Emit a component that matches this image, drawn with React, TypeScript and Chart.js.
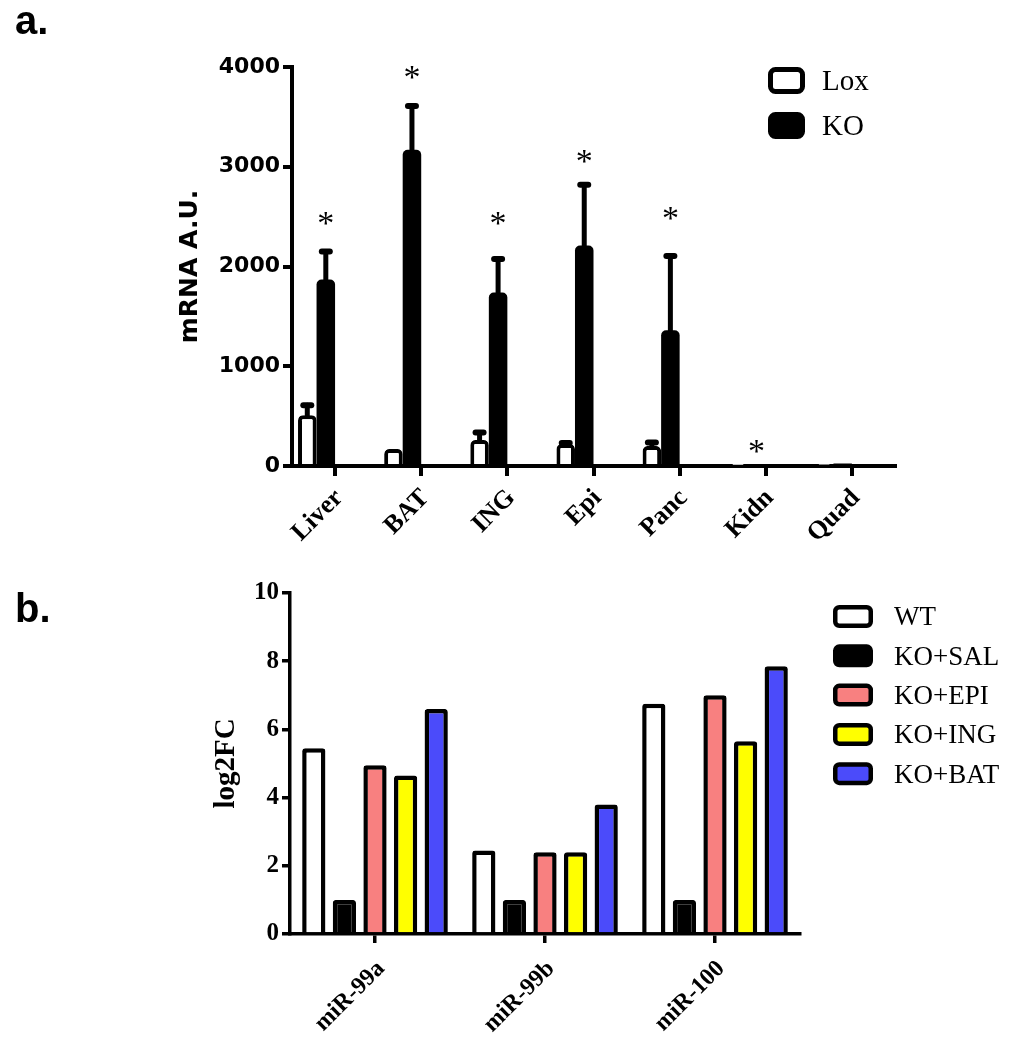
import React, { useEffect, useRef } from 'react';
import { Chart, registerables } from 'chart.js';

Chart.register(...registerables);

// ---------- Panel a data ----------
const tissues = ['Liver', 'BAT', 'ING', 'Epi', 'Panc', 'Kidn', 'Quad'];
const loxMean = [510, 170, 260, 220, 200, 5, 10];
const loxErr = [100, 0, 75, 10, 35, 0, 0];
const koMean = [1870, 3170, 1740, 2210, 1360, 20, 25];
const koErr = [280, 440, 335, 610, 745, 0, 0];
const starLevelA: (number | null)[] = [2480, 3940, 2480, 3100, 2530, 200, null];
const yTicksA = [0, 1000, 2000, 3000, 4000];
const spacerA = tissues.map(() => null);

// ---------- Panel b data ----------
const mirs = ['miR-99a', 'miR-99b', 'miR-100'];
const wt = [5.45, 2.45, 6.75];
const koSal = [1.0, 1.0, 1.0];
const koEpi = [4.95, 2.4, 7.0];
const koIng = [4.65, 2.4, 5.65];
const koBat = [6.6, 3.8, 7.85];
const yTicksB = [0, 2, 4, 6, 8, 10];

function makeLegend(key: string, o: { dx: number; dy: number; w: number; h: number; pitch: number; lw: number; tx: number; font: number; r: number }) {
  return {
    id: 'boxLegend' + key,
    afterDraw(chart: any) {
      const { ctx, chartArea } = chart;
      const items = chart.data.datasets.filter((d: any) => d.label);
      ctx.save();
      items.forEach((ds: any, i: number) => {
        const x = chartArea.right + o.dx;
        const y = chartArea.top + o.dy + i * o.pitch;
        ctx.beginPath();
        ctx.roundRect(x + o.lw / 2, y + o.lw / 2, o.w - o.lw, o.h - o.lw, o.r);
        ctx.fillStyle = ds.backgroundColor;
        ctx.fill();
        ctx.lineWidth = o.lw;
        ctx.strokeStyle = '#000';
        ctx.stroke();
        ctx.fillStyle = '#000';
        ctx.font = `${o.font}px "Liberation Serif", "Times New Roman", serif`;
        ctx.textAlign = 'left';
        ctx.textBaseline = 'alphabetic';
        ctx.fillText(ds.label, x + o.tx, y + o.h / 2 + o.font * 0.33);
      });
      ctx.restore();
    },
  };
}

const errPluginA = {
  id: 'errA',
  afterDatasetsDraw(chart: any) {
    const { ctx } = chart;
    const y = chart.scales.y;
    const sets: [number, number[], number[]][] = [
      [0, loxMean, loxErr],
      [1, koMean, koErr],
    ];
    ctx.save();
    ctx.strokeStyle = '#000';
    ctx.lineCap = 'round';
    sets.forEach(([di, means, errs]) => {
      const meta = chart.getDatasetMeta(di);
      meta.data.forEach((bar: any, i: number) => {
        const e = errs[i];
        if (!e) return;
        const top = y.getPixelForValue(means[i] + e);
        const base = y.getPixelForValue(means[i]);
        ctx.lineWidth = 5;
        ctx.beginPath();
        ctx.moveTo(bar.x, base);
        ctx.lineTo(bar.x, top);
        ctx.stroke();
        ctx.lineWidth = 6;
        ctx.beginPath();
        ctx.moveTo(bar.x - 4, top);
        ctx.lineTo(bar.x + 4, top);
        ctx.stroke();
      });
    });
    ctx.restore();
  },
};

const starPluginA = {
  id: 'starsA',
  afterDatasetsDraw(chart: any) {
    const { ctx } = chart;
    const y = chart.scales.y;
    const meta = chart.getDatasetMeta(1);
    ctx.save();
    ctx.fillStyle = '#000';
    ctx.font = '34px "Liberation Serif", "Times New Roman", serif';
    ctx.textAlign = 'center';
    ctx.textBaseline = 'alphabetic';
    const m = ctx.measureText('*');
    const shift = (m.actualBoundingBoxAscent - m.actualBoundingBoxDescent) / 2;
    starLevelA.forEach((v, i) => {
      if (v == null) return;
      const x = meta.data[i].x;
      ctx.fillText('*', x, y.getPixelForValue(v) + shift);
    });
    ctx.restore();
  },
};

export default function App() {
  const refA = useRef<HTMLCanvasElement>(null);
  const refB = useRef<HTMLCanvasElement>(null);

  useEffect(() => {
    const sansBold = { family: '"DejaVu Sans", sans-serif', weight: 'bold' as const };
    const serifBold = { family: '"Liberation Serif", "Times New Roman", serif', weight: 'bold' as const };

    const chartA = new Chart(refA.current!, {
      type: 'bar',
      data: {
        labels: tissues,
        datasets: [
          { label: 'Lox', data: loxMean, backgroundColor: '#ffffff', borderColor: '#000', borderWidth: 4, borderRadius: 5, borderSkipped: 'start' },
          { label: 'KO', data: koMean, backgroundColor: '#000000', borderColor: '#000', borderWidth: 0, borderRadius: 5, borderSkipped: 'start' },
          { label: '', data: spacerA as any },
          { label: '', data: spacerA as any },
        ],
      },
      options: {
        responsive: false,
        animation: false,
        layout: { padding: { left: 171, right: 119, top: 67, bottom: 0 } },
        datasets: { bar: { barPercentage: 1, categoryPercentage: 0.86 } },
        plugins: { legend: { display: false }, tooltip: { enabled: false } },
        scales: {
          x: {
            offset: true,
            grid: { display: true, drawOnChartArea: false, offset: false, color: '#000', lineWidth: 4, tickLength: 10 },
            border: { display: true, color: '#000', width: 4 },
            ticks: { color: '#000', font: { ...serifBold, size: 26 }, minRotation: 45, maxRotation: 45, padding: 7, labelOffset: 4, autoSkip: false },
            afterFit: (s: any) => { s.height = 104; },
          },
          y: {
            min: yTicksA[0],
            max: yTicksA[yTicksA.length - 1],
            afterBuildTicks: (s: any) => { s.ticks = yTicksA.map((v) => ({ value: v })); },
            ticks: { color: '#000', font: { ...sansBold, size: 22 }, padding: 3, callback: (v: any) => String(v) },
            grid: { display: true, drawOnChartArea: false, color: '#000', lineWidth: 4, tickLength: 9 },
            border: { display: true, color: '#000', width: 4 },
            title: { display: true, text: 'mRNA A.U.', color: '#000', font: { ...sansBold, size: 25 }, padding: { top: 4, bottom: 4 } },
            afterFit: (s: any) => { s.width = 121; },
          },
        },
      },
      plugins: [errPluginA, starPluginA, makeLegend('A', { dx: -127, dy: 0, w: 37, h: 27, pitch: 45, lw: 5, tx: 54, font: 29, r: 5 })],
    } as any);

    const chartB = new Chart(refB.current!, {
      type: 'bar',
      data: {
        labels: mirs,
        datasets: [
          { label: 'WT', data: wt, backgroundColor: '#ffffff' },
          { label: 'KO+SAL', data: koSal, backgroundColor: '#000000' },
          { label: 'KO+EPI', data: koEpi, backgroundColor: '#f88080' },
          { label: 'KO+ING', data: koIng, backgroundColor: '#ffff00' },
          { label: 'KO+BAT', data: koBat, backgroundColor: '#4b4bfa' },
        ],
      },
      options: {
        responsive: false,
        animation: false,
        layout: { padding: { left: 205, right: 214, top: 23, bottom: 0 } },
        datasets: { bar: { barPercentage: 0.76, categoryPercentage: 0.9, borderColor: '#000', borderWidth: 4.5, borderRadius: 3, borderSkipped: 'start' } },
        plugins: { legend: { display: false }, tooltip: { enabled: false } },
        scales: {
          x: {
            offset: true,
            grid: { display: true, drawOnChartArea: false, offset: false, color: '#000', lineWidth: 3.5, tickLength: 9 },
            border: { display: true, color: '#000', width: 3.5 },
            ticks: { color: '#000', font: { ...serifBold, size: 24 }, minRotation: 45, maxRotation: 45, padding: 12, labelOffset: 6, autoSkip: false },
            afterFit: (s: any) => { s.height = 116; },
          },
          y: {
            min: yTicksB[0],
            max: yTicksB[yTicksB.length - 1],
            afterBuildTicks: (s: any) => { s.ticks = yTicksB.map((v) => ({ value: v })); },
            ticks: { color: '#000', font: { ...serifBold, size: 25 }, padding: 3, callback: (v: any) => String(v) },
            grid: { display: true, drawOnChartArea: false, color: '#000', lineWidth: 3.5, tickLength: 8 },
            border: { display: true, color: '#000', width: 3.5 },
            title: { display: true, text: 'log2FC', color: '#000', font: { ...serifBold, size: 29 }, padding: { top: 4, bottom: 4 } },
            afterFit: (s: any) => { s.width = 85; },
          },
        },
      },
      plugins: [makeLegend('B', { dx: 33, dy: 12, w: 40, h: 23, pitch: 39.3, lw: 4.5, tx: 61, font: 27, r: 4 })],
    } as any);

    return () => {
      chartA.destroy();
      chartB.destroy();
    };
  }, []);

  const panelLabel: React.CSSProperties = {
    position: 'absolute',
    left: 15,
    fontFamily: '"Liberation Sans", Arial, sans-serif',
    fontWeight: 'bold',
    fontSize: 40,
    lineHeight: '40px',
    color: '#000',
  };

  return (
    <div style={{ position: 'fixed', left: 0, top: 0, width: 1014, height: 1050, background: '#ffffff', overflow: 'hidden' }}>
      <canvas ref={refA} width={1014} height={570} style={{ position: 'absolute', left: 0, top: 0, display: 'block' }} />
      <canvas ref={refB} width={1014} height={480} style={{ position: 'absolute', left: 0, top: 570, display: 'block' }} />
      <div style={{ ...panelLabel, top: 0 }}>a.</div>
      <div style={{ ...panelLabel, top: 588 }}>b.</div>
    </div>
  );
}
